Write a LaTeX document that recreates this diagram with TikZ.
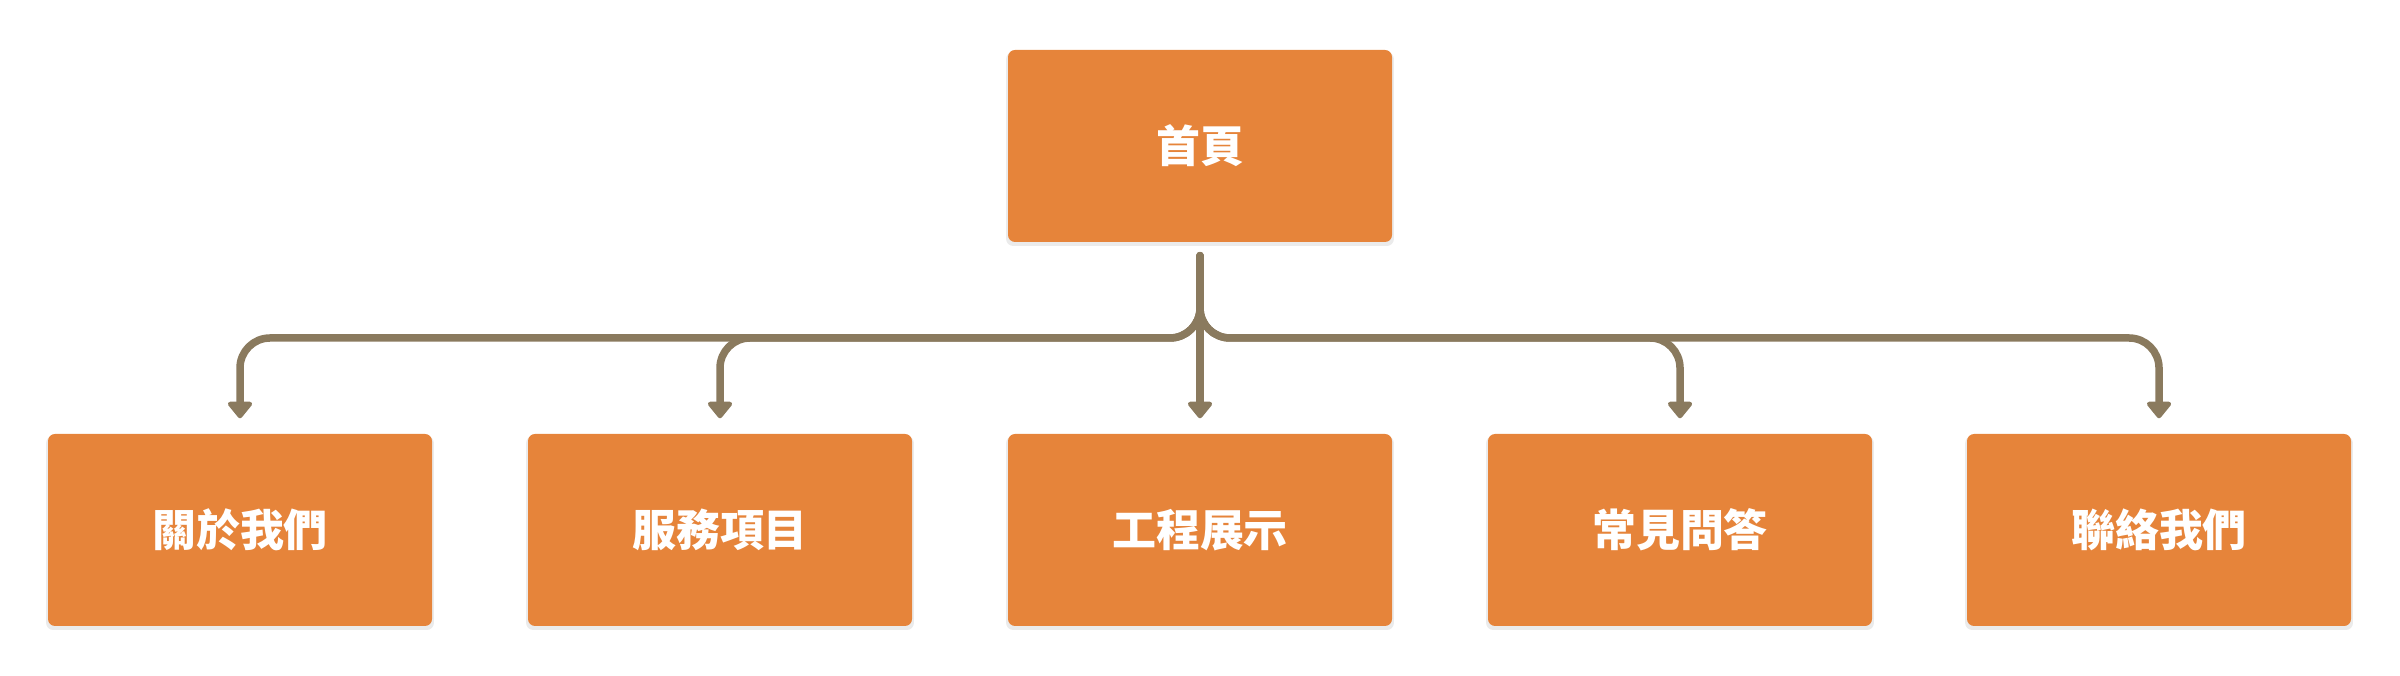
\documentclass[tikz,border=0pt]{standalone}
\usepackage{fontspec}
\newfontfamily\cjk{Noto Sans CJK TC}
\usetikzlibrary{arrows.meta,shadows}
\definecolor{pageorange}{HTML}{E6843A}
\definecolor{linkbrown}{HTML}{8A7A5E}
\begin{document}
\begin{tikzpicture}[
  page/.style={rectangle, rounded corners=0.07cm, fill=pageorange, minimum width=3.84cm, minimum height=1.92cm,
    text=white, font=\cjk\bfseries\fontsize{12.5}{14}\selectfont,
    drop shadow={shadow xshift=0cm, shadow yshift=-0.03cm, shadow scale=1.01, opacity=0.08, fill=black}},
  link/.style={draw=linkbrown, line width=0.075cm, line cap=round, rounded corners=0.3cm,
    -{Triangle[width=0.28cm,length=0.18cm,round]}, shorten >=0.15cm}
]
\useasboundingbox (0,0) rectangle (24,6.76);

\node [page] (home) at (12,5.30) {首頁};

\node [page] (about) at (2.40,1.46) {關於我們};
\node [page] (service) at (7.20,1.46) {服務項目};
\node [page] (works) at (12.00,1.46) {工程展示};
\node [page] (faq) at (16.80,1.46) {常見問答};
\node [page] (contact) at (21.59,1.46) {聯絡我們};

\coordinate (top) at ([yshift=-0.13cm]home.south);
\coordinate (bus) at (12,3.38);

\draw [link] (top) -- (bus) -| (about.north);
\draw [link] (top) -- (bus) -| (service.north);
\draw [link] (top) -- (works.north);
\draw [link] (top) -- (bus) -| (faq.north);
\draw [link] (top) -- (bus) -| (contact.north);

\end{tikzpicture}
\end{document}
